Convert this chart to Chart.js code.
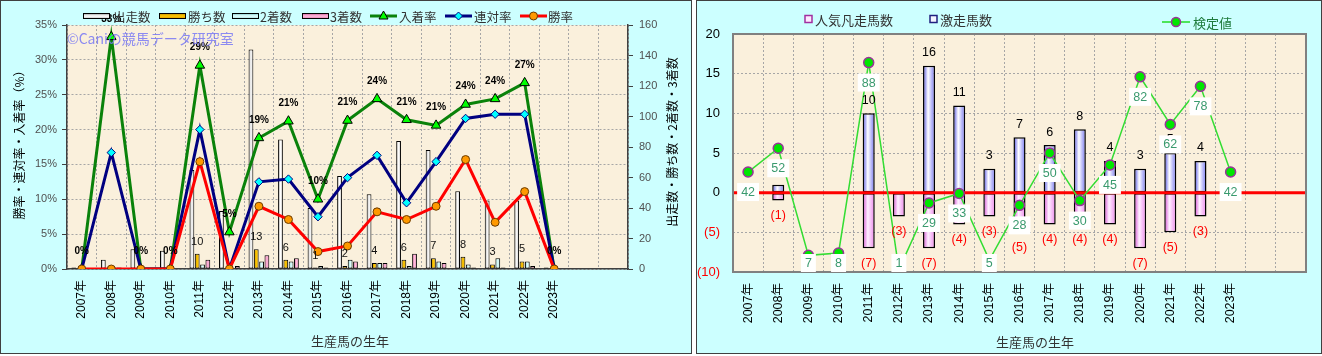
<!DOCTYPE html>
<html><head><meta charset="utf-8">
<script src="https://cdn.jsdelivr.net/npm/chart.js@4.4.1/dist/chart.umd.min.js"></script>
<style>
html,body{margin:0;padding:0;background:#fff;}
#p1{position:absolute;left:0;top:0;width:690px;height:352px;border:1px solid #404040;background:#CCFFFF;}
#p2{position:absolute;left:696px;top:0;width:624px;height:352px;border:1px solid #404040;background:#CCFFFF;}
canvas{display:block;}
</style></head><body>
<div id="p1"><canvas id="c1" width="690" height="352"></canvas></div>
<div id="p2"><canvas id="c2" width="624" height="352"></canvas></div>
<script>
// ---------- data ----------
const years = ['2007年','2008年','2009年','2010年','2011年','2012年','2013年','2014年','2015年','2016年','2017年','2018年','2019年','2020年','2021年','2022年','2023年'];
const categories = years.concat(['', '']);

// left chart: counts (right axis) and rates % (left axis)
const startsCount = [1, 6, 13, 12, 65, 38, 144, 85, 40, 61, 49, 84, 78, 51, 45, 45, 1];
const winsCount   = [0, 0, 0, 0, 10, 0, 13, 6, 1, 2, 4, 6, 7, 8, 3, 5, 0];
const secondCount = [0, 1, 0, 0, 3, 0, 5, 5, 2, 6, 4, 2, 5, 3, 7, 5, 0];
const thirdCount  = [0, 1, 0, 0, 6, 2, 9, 7, 1, 5, 4, 10, 4, 1, 1, 2, 0];
const showRate    = [0, 33.3, 0, 0, 29.2, 5.3, 18.8, 21.2, 10.0, 21.3, 24.4, 21.4, 20.6, 23.6, 24.4, 26.7, 0];
const rentaiRate  = [0, 16.7, 0, 0, 20.0, 0, 12.5, 12.9, 7.5, 13.1, 16.3, 9.5, 15.4, 21.6, 22.2, 22.2, 0];
const winRate     = [0, 0, 0, 0, 15.4, 0, 9.0, 7.1, 2.5, 3.3, 8.2, 7.1, 9.0, 15.7, 6.7, 11.1, 0];
const rateAxis  = {min: 0, max: 35, step: 5};
const countAxis = {min: 0, max: 160, step: 20};

// right chart
const kyosoCount  = [0, 1, 0, 0, 10, 0, 16, 11, 3, 7, 6, 8, 4, 3, 5, 4, 0];       // 激走馬数
const bonsoCount  = [0, -1, 0, 0, -7, -3, -7, -4, -3, -5, -4, -4, -4, -7, -5, -3, 0]; // 人気凡走馬数
const kenteiValue = [42, 52, 7, 8, 88, 1, 29, 33, 5, 28, 50, 30, 45, 82, 62, 78, 42]; // 検定値
const diffAxis  = {min: -10, max: 20, step: 5};
const kenteiAxis = {min: 0, max: 100};

// ---------- helpers ----------
const F = '"Liberation Sans","Noto Sans CJK JP",sans-serif';
const J = '"Noto Sans CJK JP","Liberation Sans",sans-serif';
Chart.defaults.font.family = F;

function barGradient(stops, slot, nSlots, catPct, barPct) {
  return function (c) {
    const chart = c.chart, xs = chart.scales && chart.scales.x;
    if (c.type !== 'data' || !xs || !chart.chartArea || !xs.width) return stops[1][1];
    const cw = xs.width / chart.data.labels.length;
    const gw = cw * catPct, sw = gw / nSlots, bw = sw * barPct;
    const cx = xs.getPixelForValue(c.dataIndex) - gw / 2 + sw * (slot + 0.5);
    const g = chart.ctx.createLinearGradient(cx - bw / 2, 0, cx + bw / 2, 0);
    stops.forEach(s => g.addColorStop(s[0], s[1]));
    return g;
  };
}
function vText(ctx, text, x, y, font, color) {
  ctx.save(); ctx.translate(x, y); ctx.rotate(-Math.PI / 2);
  ctx.font = font; ctx.fillStyle = color; ctx.textAlign = 'center'; ctx.textBaseline = 'middle';
  ctx.fillText(text, 0, 0); ctx.restore();
}
function fillPlot(chart, color) {
  const {ctx, chartArea: a} = chart;
  ctx.save(); ctx.fillStyle = color; ctx.fillRect(a.left, a.top, a.right - a.left, a.bottom - a.top); ctx.restore();
}

const STARTS_STOPS = [[0, '#8c8c8c'], [0.5, '#ffffff'], [1, '#bdbdbd']];
const WINS_STOPS   = [[0, '#b88400'], [0.5, '#ffc800'], [1, '#d89c00']];
const SEC_STOPS    = [[0, '#70c0c0'], [0.5, '#e4ffff'], [1, '#a0dcdc']];
const THIRD_STOPS  = [[0, '#c84c90'], [0.5, '#ffbcdc'], [1, '#e278b2']];
const KYOSO_STOPS  = [[0, '#4a4ae4'], [0.42, '#ffffff'], [1, '#7474f0']];
const BONSO_STOPS  = [[0, '#d448d4'], [0.42, '#fff0ff'], [1, '#ec86ec']];

const GRID = '#a6a6a6', AXIS = '#404040';
const L_CAT = 0.72, L_BAR = 0.9;

// ---------- left chart ----------
const leftDeco = {
  id: 'leftDeco',
  beforeDraw(chart) { fillPlot(chart, '#FAF0DC'); },
  afterDatasetsDraw(chart) {
    const ctx = chart.ctx;
    ctx.save();
    ctx.textAlign = 'center'; ctx.textBaseline = 'middle';
    const mW = chart.getDatasetMeta(1);
    ctx.font = '11px ' + F; ctx.fillStyle = '#111';
    winsCount.forEach((v, i) => { if (v > 0) ctx.fillText(String(v), mW.data[i].x, mW.data[i].y - 12); });
    const mS = chart.getDatasetMeta(4);
    ctx.font = 'bold 10px ' + F; ctx.fillStyle = '#000';
    showRate.forEach((v, i) => { const p = mS.data[i]; ctx.fillText(Math.round(v) + '%', p.x, p.y - 18); });
    ctx.textAlign = 'left';
    ctx.font = '14px ' + J; ctx.fillStyle = 'rgba(120,120,245,0.85)';
    ctx.fillText('©Caniの競馬データ研究室', 66, 38);
    const ly = 15;
    const barItems = [
      ['出走数', STARTS_STOPS, 82, 112], ['勝ち数', WINS_STOPS, 158, 187],
      ['2着数', SEC_STOPS, 231, 259], ['3着数', THIRD_STOPS, 301, 329]];
    ctx.font = '12.5px ' + J;
    barItems.forEach(([t, st, x, tx]) => {
      const g = ctx.createLinearGradient(0, ly - 3, 0, ly + 3);
      g.addColorStop(0, st[0][1]); g.addColorStop(0.5, st[1][1]); g.addColorStop(1, st[2][1]);
      ctx.fillStyle = g; ctx.fillRect(x, ly - 3, 27, 6);
      ctx.strokeStyle = '#000'; ctx.lineWidth = 1; ctx.strokeRect(x + 0.5, ly - 2.5, 26, 5);
      ctx.fillStyle = '#333'; ctx.fillText(t, tx, ly + 1);
    });
    const lineItems = [
      ['入着率', '#0a820a', 'tri', 369, 398], ['連対率', '#000080', 'dia', 444, 473], ['勝率', '#FF0000', 'cir', 519, 547]];
    lineItems.forEach(([t, col, mk, x, tx]) => {
      ctx.strokeStyle = col; ctx.lineWidth = 3;
      ctx.beginPath(); ctx.moveTo(x, ly); ctx.lineTo(x + 27, ly); ctx.stroke();
      const cx = x + 13.5;
      ctx.lineWidth = 1; ctx.beginPath();
      if (mk === 'tri') { ctx.moveTo(cx, ly - 5); ctx.lineTo(cx + 4.5, ly + 3); ctx.lineTo(cx - 4.5, ly + 3); ctx.closePath(); ctx.fillStyle = '#00FF00'; ctx.strokeStyle = '#000'; }
      else if (mk === 'dia') { ctx.moveTo(cx, ly - 4); ctx.lineTo(cx + 4, ly); ctx.lineTo(cx, ly + 4); ctx.lineTo(cx - 4, ly); ctx.closePath(); ctx.fillStyle = '#00FFFF'; ctx.strokeStyle = '#000080'; }
      else { ctx.arc(cx, ly, 4, 0, Math.PI * 2); ctx.fillStyle = '#FF9900'; ctx.strokeStyle = '#6a3a00'; }
      ctx.fill(); ctx.stroke();
      ctx.fillStyle = '#333'; ctx.fillText(t, tx, ly + 1);
    });
    ctx.restore();
    vText(ctx, '勝率・連対率・入着率（%）', 18, 141, '12px ' + J, '#000');
    vText(ctx, '出走数・勝ち数・2着数・3着数', 671, 141, '12px ' + J, '#000');
    ctx.save(); ctx.font = '13px ' + J; ctx.fillStyle = '#333'; ctx.textAlign = 'center'; ctx.textBaseline = 'middle';
    ctx.fillText('生産馬の生年', 349, 340); ctx.restore();
  }
};

new Chart(document.getElementById('c1'), {
  type: 'bar',
  data: {
    labels: categories,
    datasets: [
      {label: '出走数', data: startsCount, yAxisID: 'y1', order: 3, backgroundColor: barGradient(STARTS_STOPS, 0, 4, L_CAT, L_BAR), borderColor: '#000', borderWidth: 1, borderSkipped: false, categoryPercentage: L_CAT, barPercentage: L_BAR},
      {label: '勝ち数', data: winsCount, yAxisID: 'y1', order: 4, backgroundColor: barGradient(WINS_STOPS, 1, 4, L_CAT, L_BAR), borderColor: '#000', borderWidth: 1, borderSkipped: false, categoryPercentage: L_CAT, barPercentage: L_BAR},
      {label: '2着数', data: secondCount, yAxisID: 'y1', order: 5, backgroundColor: barGradient(SEC_STOPS, 2, 4, L_CAT, L_BAR), borderColor: '#000', borderWidth: 1, borderSkipped: false, categoryPercentage: L_CAT, barPercentage: L_BAR},
      {label: '3着数', data: thirdCount, yAxisID: 'y1', order: 6, backgroundColor: barGradient(THIRD_STOPS, 3, 4, L_CAT, L_BAR), borderColor: '#000', borderWidth: 1, borderSkipped: false, categoryPercentage: L_CAT, barPercentage: L_BAR},
      {type: 'line', label: '入着率', data: showRate, yAxisID: 'y', order: 2, borderColor: '#0a820a', borderWidth: 3, tension: 0,
        pointStyle: 'triangle', pointRadius: 5.5, pointBackgroundColor: '#00FF00', pointBorderColor: '#000', pointBorderWidth: 1},
      {type: 'line', label: '連対率', data: rentaiRate, yAxisID: 'y', order: 1, borderColor: '#000080', borderWidth: 3, tension: 0,
        pointStyle: 'rectRot', pointRadius: 4.2, pointBackgroundColor: '#00FFFF', pointBorderColor: '#000080', pointBorderWidth: 1},
      {type: 'line', label: '勝率', data: winRate, yAxisID: 'y', order: 0, borderColor: '#FF0000', borderWidth: 3, tension: 0,
        pointStyle: 'circle', pointRadius: 4, pointBackgroundColor: '#FF9900', pointBorderColor: '#6a3a00', pointBorderWidth: 1}
    ]
  },
  options: {
    responsive: false, animation: false, devicePixelRatio: 1,
    layout: {padding: {top: 24, left: 0, right: 0, bottom: 0}},
    plugins: {legend: {display: false}, tooltip: {enabled: false}},
    scales: {
      x: {
        afterFit(s) { s.height = 84; },
        grid: {color: GRID, lineWidth: 1, drawTicks: false, offset: true},
        border: {display: true, color: AXIS, width: 1.5, dash: [2, 2]},
        ticks: {autoSkip: false, minRotation: 90, maxRotation: 90, padding: 11, color: '#000', font: {size: 12, family: F}}
      },
      y: {
        position: 'left', min: rateAxis.min, max: rateAxis.max,
        afterFit(s) { s.width = 66; },
        grid: {color: GRID, lineWidth: 1, drawTicks: true, tickLength: 5, tickColor: AXIS, tickBorderDash: []},
        border: {display: true, color: AXIS, width: 1.5, dash: [2, 2]},
        ticks: {stepSize: rateAxis.step, padding: 5, color: '#505050', font: {size: 11, family: F}, callback: v => v + '%'}
      },
      y1: {
        position: 'right', min: countAxis.min, max: countAxis.max,
        afterFit(s) { s.width = 63; },
        grid: {drawOnChartArea: false, drawTicks: true, tickLength: 5, tickColor: AXIS, tickBorderDash: []},
        border: {display: true, color: AXIS, width: 1.5},
        ticks: {stepSize: countAxis.step, padding: 6, color: '#505050', font: {size: 11, family: F}}
      }
    }
  },
  plugins: [leftDeco]
});

// ---------- right chart ----------
const R_CAT = 0.8, R_BAR = 0.5;
const rightDeco = {
  id: 'rightDeco',
  beforeDraw(chart) { fillPlot(chart, '#FAF0DC'); },
  afterDatasetDraw(chart, args) {
    if (args.index !== 1) return;
    const {ctx, chartArea: a} = chart; const y0 = chart.scales.y.getPixelForValue(0);
    ctx.save(); ctx.strokeStyle = '#FF0000'; ctx.lineWidth = 3;
    ctx.beginPath(); ctx.moveTo(a.left, y0); ctx.lineTo(a.right, y0); ctx.stroke(); ctx.restore();
  },
  afterDatasetsDraw(chart) {
    const {ctx, chartArea: a} = chart; const ys = chart.scales.y;
    const mB = chart.getDatasetMeta(0), mK = chart.getDatasetMeta(1), mL = chart.getDatasetMeta(2);
    ctx.save();
    ctx.strokeStyle = '#808080'; ctx.lineWidth = 2;
    ctx.strokeRect(a.left, a.top, a.right - a.left, a.bottom - a.top);
    ctx.textAlign = 'center'; ctx.textBaseline = 'middle';
    ctx.font = '12.5px ' + F;
    kyosoCount.forEach((v, i) => { if (v > 0) { ctx.fillStyle = '#000'; ctx.fillText(String(v), mK.data[i].x, ys.getPixelForValue(v) - 13); } });
    bonsoCount.forEach((v, i) => { if (v < 0) { ctx.fillStyle = '#FF0000'; ctx.fillText('(' + (-v) + ')', mB.data[i].x, ys.getPixelForValue(v) + 15); } });
    ctx.font = '12.5px ' + F;
    kenteiValue.forEach((v, i) => {
      const p = mL.data[i]; const y = Math.min(p.y + 20, a.bottom - 9);
      const t = String(v); const w = ctx.measureText(t).width + 8;
      ctx.fillStyle = '#FFFFFF'; ctx.fillRect(p.x - w / 2, y - 9, w, 18);
      ctx.fillStyle = '#3a9a6e'; ctx.fillText(t, p.x, y + 0.5);
    });
    ctx.textAlign = 'left';
    ctx.font = '13px ' + J;
    const ly = 18;
    ctx.fillStyle = '#ffe8ff'; ctx.fillRect(108, ly - 3.5, 7, 7);
    ctx.strokeStyle = '#a030a0'; ctx.lineWidth = 1.5; ctx.strokeRect(108, ly - 3.5, 7, 7);
    ctx.fillStyle = '#333'; ctx.fillText('人気凡走馬数', 118, ly + 1);
    ctx.fillStyle = '#f4f4ff'; ctx.fillRect(233, ly - 3.5, 7, 7);
    ctx.strokeStyle = '#202080'; ctx.strokeRect(233, ly - 3.5, 7, 7);
    ctx.fillStyle = '#333'; ctx.fillText('激走馬数', 243, ly + 1);
    const gy = 21;
    ctx.strokeStyle = '#22dd22'; ctx.lineWidth = 1.5;
    ctx.beginPath(); ctx.moveTo(465, gy); ctx.lineTo(493, gy); ctx.stroke();
    ctx.beginPath(); ctx.arc(479, gy, 4.5, 0, Math.PI * 2); ctx.fillStyle = '#00e600'; ctx.fill();
    ctx.strokeStyle = '#993399'; ctx.stroke();
    ctx.fillStyle = '#1e7b3c'; ctx.fillText('検定値', 496, gy + 1);
    ctx.textAlign = 'center'; ctx.fillStyle = '#333'; ctx.font = '13px ' + J;
    ctx.fillText('生産馬の生年', 338, 341);
    ctx.restore();
  }
};

new Chart(document.getElementById('c2'), {
  type: 'bar',
  data: {
    labels: categories,
    datasets: [
      {label: '人気凡走馬数', data: bonsoCount, stack: 's', order: 2, backgroundColor: barGradient(BONSO_STOPS, 0, 1, R_CAT, R_BAR), borderColor: '#000', borderWidth: 1.5, borderSkipped: false, categoryPercentage: R_CAT, barPercentage: R_BAR},
      {label: '激走馬数', data: kyosoCount, stack: 's', order: 1, backgroundColor: barGradient(KYOSO_STOPS, 0, 1, R_CAT, R_BAR), borderColor: '#000', borderWidth: 1.5, borderSkipped: false, categoryPercentage: R_CAT, barPercentage: R_BAR},
      {type: 'line', label: '検定値', data: kenteiValue, yAxisID: 'y2', order: 0, borderColor: '#33dd33', borderWidth: 1.5, tension: 0,
        pointStyle: 'circle', pointRadius: 5, pointBackgroundColor: '#00e600', pointBorderColor: '#993399', pointBorderWidth: 1.5}
    ]
  },
  options: {
    responsive: false, animation: false, devicePixelRatio: 1,
    layout: {padding: {top: 33, left: 0, right: 15, bottom: 0}},
    plugins: {legend: {display: false}, tooltip: {enabled: false}},
    scales: {
      x: {
        stacked: true,
        afterFit(s) { s.height = 81; },
        grid: {color: GRID, lineWidth: 1, drawTicks: false, offset: true},
        border: {display: false, dash: [2, 2]},
        ticks: {autoSkip: false, minRotation: 90, maxRotation: 90, padding: 11, color: '#000', font: {size: 12.5, family: F}}
      },
      y: {
        stacked: true, position: 'left', min: diffAxis.min, max: diffAxis.max,
        afterFit(s) { s.width = 36; },
        grid: {color: GRID, lineWidth: 1, drawTicks: false},
        border: {display: false, dash: [2, 2]},
        ticks: {stepSize: diffAxis.step, padding: 13, font: {size: 13, family: F},
          color: c => (c.tick && c.tick.value < 0) ? '#FF0000' : '#000',
          callback: v => v < 0 ? '(' + (-v) + ')' : String(v)}
      },
      y2: {display: false, min: kenteiAxis.min, max: kenteiAxis.max}
    }
  },
  plugins: [rightDeco]
});
</script>
</body></html>
